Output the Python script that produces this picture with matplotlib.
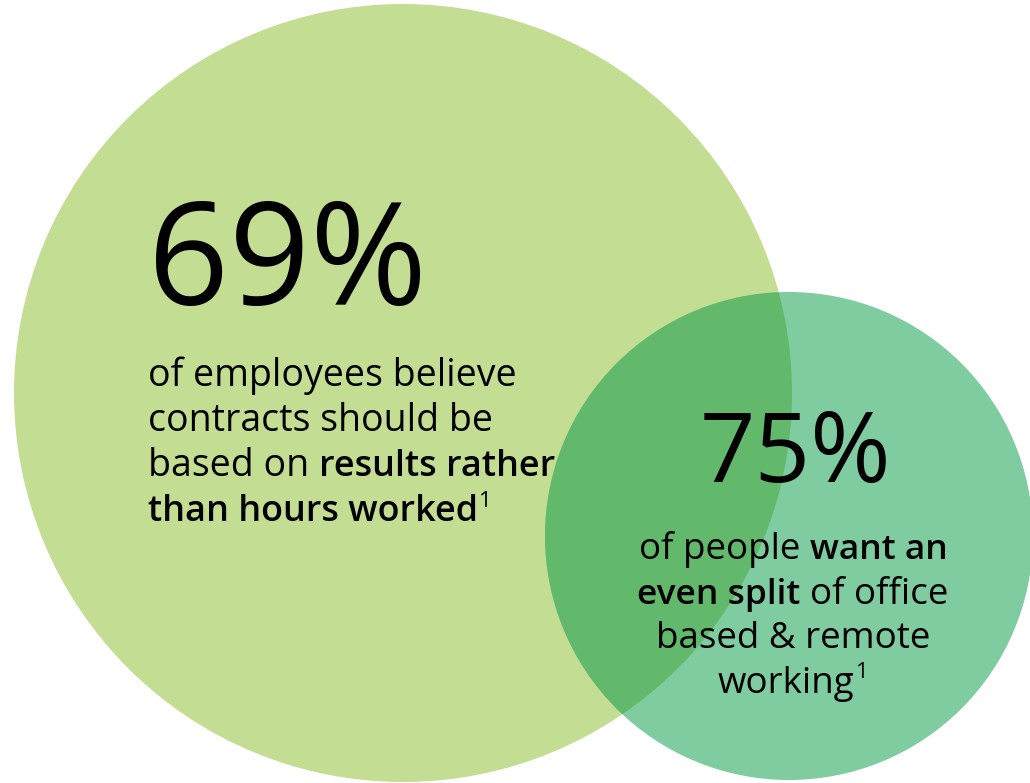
import matplotlib.pyplot as plt
from matplotlib.patches import Circle

# headline figures and their captions (segments: text, weight)
percents = ["69%", "75%"]
captions = [
    [[("of employees believe", "normal")],
     [("contracts should be", "normal")],
     [("based on", "normal"), ("results rather", "semibold")],
     [("than hours worked", "semibold")]],
    [[("of people", "normal"), ("want an", "semibold")],
     [("even split", "semibold"), ("of office", "normal")],
     [("based & remote", "normal")],
     [("working", "normal")]],
]
footnote = "1"

W, H = 1030, 783
FONT = "Open Sans"

fig = plt.figure(figsize=(W / 100, H / 100), dpi=100)
ax = fig.add_axes([0, 0, 1, 1], frameon=False)
ax.set_xlim(0, W)
ax.set_ylim(H, 0)
ax.set_xticks([])
ax.set_yticks([])

# circles (layout in pixels)
big = Circle((403, 393), 389, color="#c3dd93", lw=0)
small = Circle((789, 536), 244, color="#7fcca0", lw=0)
overlap = Circle((789, 536), 244, color="#62b96b", lw=0)
ax.add_patch(big)
ax.add_patch(small)
ax.add_patch(overlap)
overlap.set_clip_path(big)

renderer = fig.canvas.get_renderer()


def seg_size(size, weight):
    # only a full bold is installed; shrink it a bit to mimic semibold width
    return size * 0.96 if weight != "normal" else size


def width(s, size, weight):
    t = ax.text(0, 0, s, fontsize=seg_size(size, weight), family=FONT, weight=weight)
    w = t.get_window_extent(renderer).width
    t.remove()
    return w


def draw_line(segs, x, y, size, align, sup=False):
    space = width("a a", size, "normal") - width("aa", size, "normal")
    widths = [width(s, size, wt) for s, wt in segs]
    total = sum(widths) + space * (len(segs) - 1)
    if sup:
        total += width(footnote, size * 0.6, "normal") + 1
    x0 = x - total / 2 if align == "center" else x
    for (s, wt), w in zip(segs, widths):
        ax.text(x0, y, s, fontsize=seg_size(size, wt), family=FONT, weight=wt,
                va="baseline", ha="left", color="black")
        x0 += w + space
    if sup:
        ax.text(x0 - space + 1, y - 14, footnote, fontsize=size * 0.6,
                family=FONT, va="baseline", ha="left", color="black")


# left block
ax.text(148, 305, percents[0], fontsize=102, family=FONT, va="baseline",
        ha="left", color="black")
for i, segs in enumerate(captions[0]):
    draw_line(segs, 148, 386 + 45 * i, 27, "left",
              sup=(i == len(captions[0]) - 1))

# right block
ax.text(795, 482, percents[1], fontsize=70, family=FONT, va="baseline",
        ha="center", color="black")
for i, segs in enumerate(captions[1]):
    draw_line(segs, 793, 559 + 44.5 * i, 26.5, "center",
              sup=(i == len(captions[1]) - 1))

plt.savefig("out.png", dpi=100)
